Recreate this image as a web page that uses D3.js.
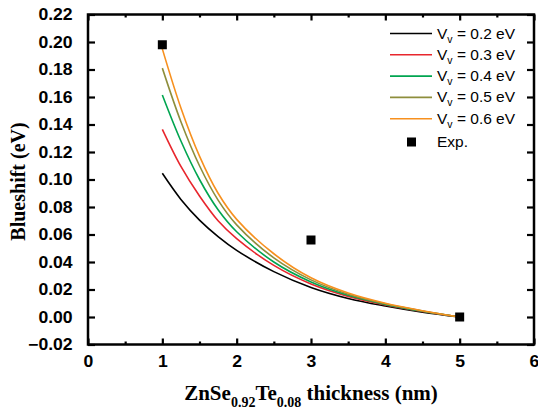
<!DOCTYPE html>
<html>
<head>
<meta charset="utf-8">
<script src="https://cdn.jsdelivr.net/npm/d3@7"></script>
<style>
  body { margin: 0; background: #fff; }
  .tick-label { font-family: Arial, "Liberation Sans", sans-serif; font-weight: bold; font-size: 16px; }
  .title { font-family: "Times New Roman", "Liberation Serif", serif; font-weight: bold; }
  .legend { font-family: Arial, "Liberation Sans", sans-serif; font-size: 15.5px; }
</style>
</head>
<body>
<div class="canvas"></div>
<script>
// thickness (nm) where the model curves were sampled
const thickness = [1, 1.25, 1.5, 1.75, 2, 2.5, 3, 3.5, 4, 4.5, 5];

// model blueshift (eV) for each valence band offset
const vv02 = [0.1045, 0.0855, 0.0705, 0.0585, 0.0485, 0.033, 0.0215, 0.0135, 0.008, 0.0035, 0];
const vv03 = [0.1365, 0.1095, 0.088, 0.070, 0.057, 0.0375, 0.024, 0.015, 0.0088, 0.004, 0];
const vv04 = [0.1615, 0.128, 0.100, 0.078, 0.062, 0.040, 0.0255, 0.0158, 0.0092, 0.0042, 0];
const vv05 = [0.181, 0.142, 0.110, 0.085, 0.067, 0.043, 0.027, 0.0166, 0.0096, 0.0044, 0];
const vv06 = [0.195, 0.152, 0.117, 0.090, 0.071, 0.046, 0.0285, 0.0174, 0.010, 0.0046, 0];

const seriesNames = ["0.2", "0.3", "0.4", "0.5", "0.6"];
const seriesColors = ["#000000", "#e8262d", "#00a550", "#8e8e3c", "#f7901e"];

// experimental points
const expX = [1, 3, 5];
const expY = [0.198, 0.056, 0.0];

const xTicks = [0, 1, 2, 3, 4, 5, 6];
const xMinor = [0.5, 1.5, 2.5, 3.5, 4.5, 5.5];
const yTicks = [-0.02, 0, 0.02, 0.04, 0.06, 0.08, 0.1, 0.12, 0.14, 0.16, 0.18, 0.2, 0.22];

const dims = { width: 538, height: 410 };
const plot = { left: 88, right: 534, top: 14.5, bottom: 344.5 };

const svg = d3
  .select(".canvas")
  .append("svg")
  .attr("width", dims.width)
  .attr("height", dims.height);

const x = d3.scaleLinear().domain([0, 6]).range([plot.left, plot.right]);
const y = d3.scaleLinear().domain([-0.02, 0.22]).range([plot.bottom, plot.top]);

// curves
const line = d3
  .line()
  .x((d) => x(d[0]))
  .y((d) => y(d[1]))
  .curve(d3.curveCatmullRom.alpha(0.5));

const allSeries = [vv02, vv03, vv04, vv05, vv06];
allSeries.forEach((vals, i) => {
  svg
    .append("path")
    .attr("d", line(thickness.map((t, j) => [t, vals[j]])))
    .attr("fill", "none")
    .attr("stroke", seriesColors[i])
    .attr("stroke-width", 1.6);
});

// experimental squares
const sq = 9;
svg
  .selectAll("rect.exp")
  .data(expX.map((t, i) => [t, expY[i]]))
  .enter()
  .append("rect")
  .attr("class", "exp")
  .attr("x", (d) => x(d[0]) - sq / 2)
  .attr("y", (d) => y(d[1]) - sq / 2)
  .attr("width", sq)
  .attr("height", sq)
  .attr("fill", "#000");

// axes (ticks drawn inward on all four sides)
const frame = svg.append("g");

const bottomAxis = d3.axisBottom(x).tickValues(xTicks).tickSize(-6).tickPadding(11).tickFormat(d3.format("d"));
const bottomMinor = d3.axisBottom(x).tickValues(xMinor).tickSize(-3).tickFormat("");
const topAxis = d3.axisTop(x).tickValues(xTicks).tickSize(-6).tickFormat("");
const topMinor = d3.axisTop(x).tickValues(xMinor).tickSize(-3).tickFormat("");
const leftAxis = d3.axisLeft(y).tickValues(yTicks).tickSize(-7).tickPadding(14).tickFormat(d3.format(".2f"));
const rightAxis = d3.axisRight(y).tickValues(yTicks).tickSize(-7).tickFormat("");

const axes = [
  [bottomAxis, `translate(0, ${plot.bottom})`],
  [bottomMinor, `translate(0, ${plot.bottom})`],
  [topAxis, `translate(0, ${plot.top})`],
  [topMinor, `translate(0, ${plot.top})`],
  [leftAxis, `translate(${plot.left}, 0)`],
  [rightAxis, `translate(${plot.right}, 0)`],
];

axes.forEach(([axis, tr]) => {
  const g = frame.append("g").attr("transform", tr).call(axis);
  g.select(".domain").remove();
  g.selectAll(".tick line").attr("stroke", "#000").attr("stroke-width", 2.2);
  // labels in the reference are wide, so stretch them a little
  g.selectAll(".tick text")
    .attr("class", "tick-label")
    .attr("fill", "#000")
    .attr("transform", "scale(1.1, 1)");
});

frame
  .append("rect")
  .attr("x", plot.left)
  .attr("y", plot.top)
  .attr("width", plot.right - plot.left)
  .attr("height", plot.bottom - plot.top)
  .attr("fill", "none")
  .attr("stroke", "#000")
  .attr("stroke-width", 2.5);

// axis titles
const xTitle = svg
  .append("text")
  .attr("class", "title")
  .attr("x", (plot.left + plot.right) / 2)
  .attr("y", 400)
  .attr("text-anchor", "middle")
  .attr("font-size", 21);
xTitle.append("tspan").text("ZnSe");
xTitle.append("tspan").attr("dy", 7).attr("font-size", 14).text("0.92");
xTitle.append("tspan").attr("dy", -7).text("Te");
xTitle.append("tspan").attr("dy", 7).attr("font-size", 14).text("0.08");
xTitle.append("tspan").attr("dy", -7).text(" thickness (nm)");

svg
  .append("text")
  .attr("class", "title")
  .attr("transform", `translate(25, ${(plot.top + plot.bottom) / 2 + 2}) rotate(-90)`)
  .attr("text-anchor", "middle")
  .attr("font-size", 20)
  .text("Blueshift (eV)");

// legend
const legendGroup = svg.append("g").attr("class", "legend");
const rowY = (i) => 33.5 + i * 21.3;

seriesNames.forEach((name, i) => {
  legendGroup
    .append("line")
    .attr("x1", 390)
    .attr("x2", 432)
    .attr("y1", rowY(i))
    .attr("y2", rowY(i))
    .attr("stroke", seriesColors[i])
    .attr("stroke-width", 1.6);
  const t = legendGroup
    .append("text")
    .attr("x", 437)
    .attr("y", rowY(i) + 5);
  t.append("tspan").text("V");
  t.append("tspan").attr("dy", 4).attr("font-size", 10.5).text("v");
  t.append("tspan").attr("dy", -4).text(` = ${name} eV`);
});

legendGroup
  .append("rect")
  .attr("x", 411.5 - sq / 2)
  .attr("y", rowY(5) + 2 - sq / 2)
  .attr("width", sq)
  .attr("height", sq)
  .attr("fill", "#000");
legendGroup
  .append("text")
  .attr("x", 437)
  .attr("y", rowY(5) + 7)
  .text("Exp.");
</script>
</body>
</html>
